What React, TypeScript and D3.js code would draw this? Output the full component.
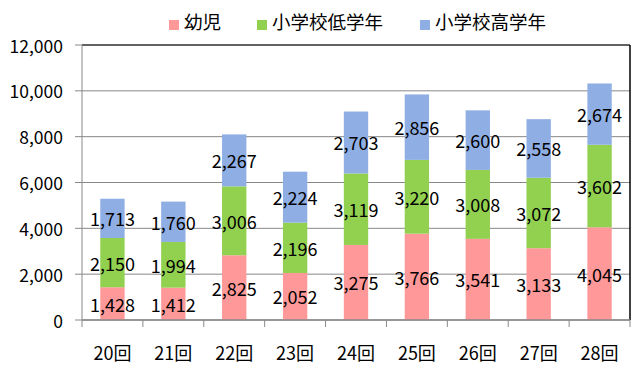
import React from "react";
import * as d3 from "d3";

const categories = ["20回", "21回", "22回", "23回", "24回", "25回", "26回", "27回", "28回"];
const seriesNames = ["幼児", "小学校低学年", "小学校高学年"];
const infants = [1428, 1412, 2825, 2052, 3275, 3766, 3541, 3133, 4045];
const lowerGrades = [2150, 1994, 3006, 2196, 3119, 3220, 3008, 3072, 3602];
const upperGrades = [1713, 1760, 2267, 2224, 2703, 2856, 2600, 2558, 2674];
const yTicks = [0, 2000, 4000, 6000, 8000, 10000, 12000];
const colors = ["#FF9999", "#92D050", "#8FAEE3"];

const W = 641, H = 369;
const M = { left: 82, right: 630, top: 45, bottom: 320 };
const FONT = "'Noto Sans CJK JP', 'Noto Sans', sans-serif";

export default function App() {
  const x = d3.scaleBand<string>().domain(categories).range([M.left, M.right]).paddingInner(0.6).paddingOuter(0.3);
  const y = d3.scaleLinear().domain([0, 12000]).range([M.bottom, M.top]);
  const rows = categories.map((c, i) => ({ cat: c, a: infants[i], b: lowerGrades[i], c2: upperGrades[i] }));
  const stack = d3.stack<any>().keys(["a", "b", "c2"])(rows);
  const fmt = d3.format(",");
  const step = (M.right - M.left) / categories.length;
  const legendX = [169, 257, 420];

  return (
    <svg width={W} height={H} style={{ position: "absolute", left: 0, top: 0, background: "#fff" }} fontFamily={FONT}>
      {/* gridlines */}
      {yTicks.map((t) => (
        <line key={t} x1={M.left - 7} x2={M.right} y1={y(t)} y2={y(t)} stroke="#888" strokeWidth={1} />
      ))}
      {/* bars */}
      {stack.map((s, si) =>
        s.map((d, i) => (
          <rect key={si + "-" + i} x={x(categories[i])} width={x.bandwidth()} y={y(d[1])} height={y(d[0]) - y(d[1])} fill={colors[si]} />
        ))
      )}
      {/* frame */}
      <line x1={M.left} x2={M.right} y1={M.top} y2={M.top} stroke="#000" />
      <line x1={M.right} x2={M.right} y1={M.top} y2={M.bottom} stroke="#000" strokeWidth={1.5} />
      <line x1={M.left} x2={M.left} y1={M.top} y2={M.bottom} stroke="#888" />
      <line x1={M.left} x2={M.right} y1={M.bottom} y2={M.bottom} stroke="#888" strokeWidth={1.5} />
      {categories.map((c, i) => (
        <line key={c} x1={M.left + step * i} x2={M.left + step * i} y1={M.bottom} y2={M.bottom + 7} stroke="#888" />
      ))}
      <line x1={M.right} x2={M.right} y1={M.bottom} y2={M.bottom + 7} stroke="#888" />
      {/* data labels */}
      {stack.map((s, si) =>
        s.map((d, i) => (
          <text key={"l" + si + "-" + i} x={x(categories[i])! + x.bandwidth() / 2} y={(y(d[0]) + y(d[1])) / 2} textAnchor="middle" dominantBaseline="central" fontSize={18} fill="#000">
            {fmt(d[1] - d[0])}
          </text>
        ))
      )}
      {/* y labels */}
      {yTicks.map((t) => (
        <text key={"y" + t} x={63} y={y(t)} textAnchor="end" dominantBaseline="central" fontSize={17.5} fill="#000">
          {fmt(t)}
        </text>
      ))}
      {/* x labels */}
      {categories.map((c) => (
        <text key={"x" + c} x={x(c)! + x.bandwidth() / 2} y={352} textAnchor="middle" dominantBaseline="central" fontSize={18} fill="#000">
          {c}
        </text>
      ))}
      {/* legend */}
      {seriesNames.map((n, i) => (
        <g key={n}>
          <rect x={legendX[i]} y={20} width={10} height={10} fill={colors[i]} />
          <text x={legendX[i] + 15} y={21} dominantBaseline="central" fontSize={18.5} fill="#000">{n}</text>
        </g>
      ))}
    </svg>
  );
}
